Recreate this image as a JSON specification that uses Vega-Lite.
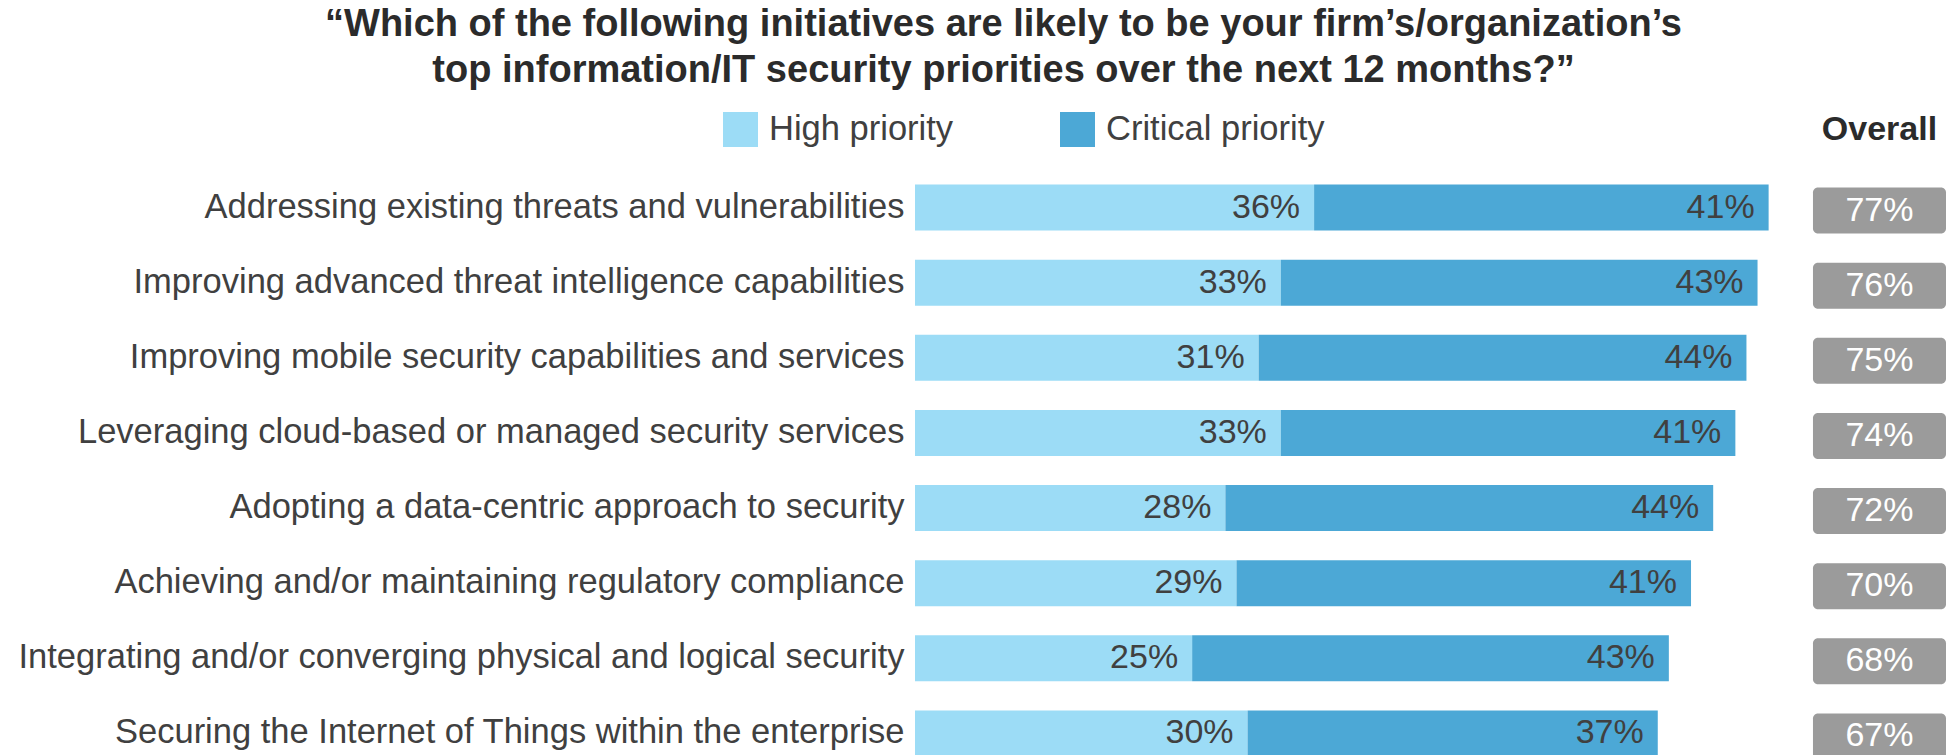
{
  "$schema": "https://vega.github.io/schema/vega-lite/v6.json",
  "autosize": {"type": "none"},
  "padding": {"left": 915, "top": 170, "right": 3, "bottom": 0},
  "width": 1031,
  "height": 601,
  "background": "white",
  "title": {
    "text": ["“Which of the following initiatives are likely to be your firm’s/organization’s", "top information/IT security priorities over the next 12 months?”"],
    "fontSize": 38,
    "font": "Liberation Sans",
    "fontWeight": "bold",
    "color": "#2b2b2b",
    "anchor": "middle",
    "frame": "group",
    "dx": -427,
    "lineHeight": 46,
    "offset": 22
  },
  "data": {
    "values": [
      {"item": "Addressing existing threats and vulnerabilities", "type": "High priority", "value": 0.36},
      {"item": "Addressing existing threats and vulnerabilities", "type": "Critical priority", "value": 0.41},
      {"item": "Improving advanced threat intelligence capabilities", "type": "High priority", "value": 0.33},
      {"item": "Improving advanced threat intelligence capabilities", "type": "Critical priority", "value": 0.43},
      {"item": "Improving mobile security capabilities and services", "type": "High priority", "value": 0.31},
      {"item": "Improving mobile security capabilities and services", "type": "Critical priority", "value": 0.44},
      {"item": "Leveraging cloud-based or managed security services", "type": "High priority", "value": 0.33},
      {"item": "Leveraging cloud-based or managed security services", "type": "Critical priority", "value": 0.41},
      {"item": "Adopting a data-centric approach to security", "type": "High priority", "value": 0.28},
      {"item": "Adopting a data-centric approach to security", "type": "Critical priority", "value": 0.44},
      {"item": "Achieving and/or maintaining regulatory compliance", "type": "High priority", "value": 0.29},
      {"item": "Achieving and/or maintaining regulatory compliance", "type": "Critical priority", "value": 0.41},
      {"item": "Integrating and/or converging physical and logical security", "type": "High priority", "value": 0.25},
      {"item": "Integrating and/or converging physical and logical security", "type": "Critical priority", "value": 0.43},
      {"item": "Securing the Internet of Things within the enterprise", "type": "High priority", "value": 0.30},
      {"item": "Securing the Internet of Things within the enterprise", "type": "Critical priority", "value": 0.37}
    ]
  },
  "encoding": {
    "y": {
      "field": "item",
      "type": "nominal",
      "sort": null,
      "scale": {"paddingInner": 0.387, "paddingOuter": 0.194},
      "axis": {
        "title": null,
        "ticks": false,
        "domain": false,
        "labelFontSize": 34.5,
        "labelFont": "Liberation Sans",
        "labelColor": "#404040",
        "labelPadding": 11,
        "labelLimit": 1200
      }
    }
  },
  "layer": [
    {
      "mark": {"type": "bar"},
      "encoding": {
        "x": {
          "field": "value",
          "type": "quantitative",
          "stack": "zero",
          "scale": {"domain": [0, 0.93], "nice": false, "zero": true},
          "axis": {
            "orient": "top",
            "labels": false,
            "ticks": false,
            "domain": false,
            "grid": false,
            "title": "Overall",
            "titleFont": "Liberation Sans",
            "titleFontSize": 34,
            "titleFontWeight": "bold",
            "titleColor": "#2b2b2b",
            "titleX": 964,
            "titleY": -41,
            "titleAlign": "center",
            "titleBaseline": "middle",
            "titleAnchor": null
          }
        },
        "color": {
          "field": "type",
          "type": "nominal",
          "scale": {"domain": ["High priority", "Critical priority"], "range": ["#9cdcf6", "#4ca8d6"]},
          "legend": {
            "title": null,
            "orient": "none",
            "direction": "horizontal",
            "legendX": -192,
            "legendY": -58,
            "padding": 0,
            "symbolType": "square",
            "symbolSize": 1225,
            "symbolStrokeWidth": 0,
            "symbolOpacity": 1,
            "labelFont": "Liberation Sans",
            "labelFontSize": 34.5,
            "labelColor": "#404040",
            "labelOffset": 11,
            "columnPadding": 106,
            "labelLimit": 400
          }
        },
        "order": {"field": "type", "sort": "descending"}
      }
    },
    {
      "transform": [
        {"stack": "value", "groupby": ["item"], "sort": [{"field": "type", "order": "descending"}], "as": ["v0", "v1"]}
      ],
      "mark": {"type": "text", "align": "right", "baseline": "middle", "dx": -14, "fontSize": 34, "font": "Liberation Sans", "color": "#404040"},
      "encoding": {
        "x": {"field": "v1", "type": "quantitative"},
        "text": {"field": "value", "type": "quantitative", "format": ".0%"}
      }
    },
    {
      "transform": [
        {"aggregate": [{"op": "sum", "field": "value", "as": "overall"}], "groupby": ["item"]}
      ],
      "mark": {"type": "bar", "color": "#9b9b9b", "cornerRadius": 5, "yOffset": 3},
      "encoding": {
        "x": {"datum": 0.81, "type": "quantitative"},
        "x2": {"datum": 0.93}
      }
    },
    {
      "transform": [
        {"aggregate": [{"op": "sum", "field": "value", "as": "overall"}], "groupby": ["item"]}
      ],
      "mark": {"type": "text", "align": "center", "baseline": "middle", "fontSize": 34, "font": "Liberation Sans", "color": "#ffffff", "yOffset": 3},
      "encoding": {
        "x": {"datum": 0.87, "type": "quantitative"},
        "text": {"field": "overall", "type": "quantitative", "format": ".0%"}
      }
    }
  ],
  "config": {
    "view": {"stroke": null}
  }
}
